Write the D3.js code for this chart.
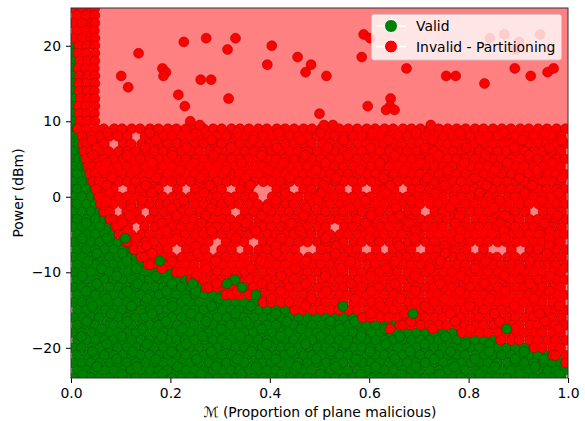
<!DOCTYPE html>
<html>
<head>
<meta charset="utf-8">
<script src="https://cdn.jsdelivr.net/npm/d3@7"></script>
<style>
	body { margin: 0; background: #fff; }
	svg { display: block; font-family: "DejaVu Sans", sans-serif; }
</style>
</head>
<body>
<script>
// Power level of each row of points (dBm)
const rowPower = [25,24,23,22,21,20,19,18,17,16,15,14,13,12,11,10,9,8,7,6,5,4,3,2,1,0,-1,-2,-3,-4,-5,-6,-7,-8,-9,-10,-11,-12,-13,-14,-15,-16,-17,-18,-19,-20,-21,-22,-23,-24];

// Proportion malicious of the valid points, one list per row
const validM = [
[],[],[],[],[],
[.002],[.003],[.002],[.001],[.002],[.002],[.003],[.004],[.002],[.002],[.003],
[.002,.012],[.004,.016],[.003,.016],[.004,.022],[.003,.014,.026],[.004,.022,.03],[.003,.012,.031],[.004,.022,.04],
[.003,.012,.031,.048],[.004,.022,.041,.055],[.003,.012,.031,.049,.06],[.004,.022,.041,.058,.066],[.002,.012,.031,.049,.068,.078],
[.004,.022,.041,.058,.077,.09],[.012,.031,.049,.068,.086,.097],[.004,.022,.041,.058,.077,.095,.111],
[.012,.031,.049,.068,.086,.104,.122,.127],[.004,.022,.041,.058,.077,.095,.113,.131,.141],[.012,.031,.049,.068,.086,.104,.122,.141,.155],
[.004,.023,.04,.059,.077,.094,.114,.131,.148,.168,.187,.204,.212],
[.012,.03,.05,.068,.085,.104,.123,.141,.158,.177,.196,.213,.23,.242],
[.005,.022,.041,.057,.077,.096,.113,.13,.149,.169,.186,.203,.222,.241,.258,.272],
[.012,.032,.049,.067,.086,.105,.122,.14,.159,.178,.195,.212,.231,.25,.268,.285,.304,.312],
[.005,.022,.04,.059,.077,.094,.113,.132,.149,.167,.186,.205,.222,.239,.258,.278,.295,.312,.331,.35,.368,.386],
[.013,.031,.048,.068,.087,.104,.121,.141,.16,.177,.194,.213,.232,.249,.267,.286,.305,.322,.339,.358,.378,.395,.412,.431,.449],
[.004,.023,.041,.057,.077,.096,.113,.13,.149,.169,.186,.203,.222,.241,.258,.276,.295,.314,.331,.348,.368,.387,.404,.421,.44,.459,.477,.494,.513,.532,.549,.567,.586],
[.012,.03,.049,.069,.086,.103,.122,.142,.159,.176,.195,.214,.231,.248,.268,.287,.304,.321,.34,.359,.377,.394,.413,.432,.449,.466,.485,.505,.522,.539,.558,.577,.595,.612,.631,.65,.662],
[.003,.022,.042,.058,.076,.095,.114,.131,.148,.168,.187,.204,.221,.24,.259,.277,.294,.313,.332,.349,.367,.386,.405,.422,.439,.458,.478,.495,.512,.531,.55,.568,.585,.604,.623,.64,.657,.677,.696,.713,.73,.749,.769,.786],
[.013,.031,.05,.068,.085,.104,.123,.141,.158,.177,.196,.213,.23,.249,.269,.286,.303,.322,.341,.358,.376,.395,.414,.431,.448,.467,.486,.504,.521,.54,.559,.576,.594,.613,.632,.649,.666,.685,.704,.722,.739,.758,.777,.794,.812,.831,.85,.865],
[.004,.021,.041,.059,.077,.094,.113,.132,.149,.167,.186,.205,.222,.239,.258,.278,.295,.312,.331,.35,.368,.385,.404,.423,.44,.457,.477,.496,.513,.53,.549,.569,.586,.603,.622,.641,.658,.676,.695,.714,.731,.748,.768,.787,.804,.821,.84,.859,.877,.894,.913,.931],
[.012,.032,.049,.067,.086,.105,.122,.14,.159,.178,.195,.212,.231,.25,.268,.285,.304,.323,.34,.357,.377,.396,.413,.43,.449,.468,.485,.503,.522,.541,.558,.575,.595,.614,.631,.648,.667,.686,.703,.721,.74,.759,.776,.793,.813,.832,.849,.866,.885,.904,.922,.939,.958,.97],
[.005,.022,.04,.058,.078,.095,.112,.131,.15,.168,.185,.204,.223,.24,.257,.277,.296,.313,.33,.349,.369,.386,.403,.422,.441,.458,.476,.495,.514,.531,.548,.568,.587,.604,.621,.64,.659,.677,.694,.713,.732,.749,.767,.786,.805,.822,.839,.858,.878,.895,.912,.931,.95,.968,.985,.996],
[.012,.031,.048,.068,.087,.104,.121,.141,.16,.177,.194,.213,.232,.249,.267,.286,.305,.322,.339,.358,.378,.395,.412,.431,.45,.467,.484,.504,.523,.54,.557,.576,.596,.613,.63,.649,.668,.685,.702,.722,.741,.758,.775,.794,.814,.831,.848,.867,.886,.903,.921,.94,.959,.976,.993],
[.004,.023,.041,.057,.077,.096,.113,.13,.149,.169,.186,.203,.222,.241,.258,.276,.295,.314,.331,.348,.368,.387,.404,.421,.44,.459,.477,.494,.513,.532,.549,.567,.586,.605,.622,.639,.658,.678,.695,.712,.731,.75,.768,.785,.804,.823,.84,.857,.877,.896,.913,.93,.949,.969,.986]
];

// Proportion malicious of the invalid points, one list per row
const invalidM = [
[.003,.021,.04,.048],[.012,.03,.048],[.004,.022,.041,.048],[.012,.03,.047],[.003,.022,.04,.048],
[.016,.032,.048],[.014,.03,.048],[.018,.034,.048],[.015,.029,.047],[.017,.033,.048],[.016,.031,.048],[.017,.033,.047],[.019,.034,.048],[.015,.03,.048],[.017,.032,.047],[.018,.034,.048],
[.014,.031,.05,.066,.087,.103,.122,.139,.159,.176,.195,.212,.231,.25,.267,.286,.303,.323,.34,.358,.377,.394,.414,.431,.449,.468,.485,.504,.521,.54,.558,.576,.595,.612,.631,.648,.668,.685,.703,.722,.74,.758,.776,.794,.813,.83,.849,.867,.885,.904,.921,.94,.958,.977,.995],
[.022,.041,.058,.077,.095,.113,.149,.168,.186,.204,.223,.24,.258,.277,.294,.313,.331,.349,.368,.386,.405,.422,.44,.458,.477,.495,.513,.531,.549,.568,.586,.604,.623,.64,.658,.677,.695,.713,.731,.75,.768,.786,.804,.822,.84,.858,.877,.895,.913,.931,.949,.968,.986],
[.024,.032,.05,.067,.105,.121,.142,.158,.178,.194,.214,.23,.25,.267,.287,.303,.323,.339,.359,.376,.396,.412,.432,.448,.468,.484,.505,.521,.541,.557,.577,.594,.614,.63,.65,.666,.686,.702,.723,.739,.759,.775,.795,.812,.832,.848,.868,.884,.904,.921,.941,.957,.977,.993],
[.026,.041,.059,.076,.096,.113,.13,.15,.168,.185,.204,.223,.24,.257,.278,.295,.312,.331,.35,.368,.385,.404,.423,.44,.457,.477,.496,.513,.53,.549,.569,.586,.603,.622,.641,.658,.676,.695,.714,.731,.748,.768,.787,.804,.821,.84,.859,.877,.894,.913,.932,.949,.967,.986],
[.03,.05,.067,.086,.105,.122,.14,.159,.178,.195,.212,.231,.25,.268,.285,.304,.323,.34,.357,.377,.396,.413,.43,.449,.468,.485,.503,.522,.541,.558,.575,.595,.614,.631,.648,.667,.686,.703,.721,.74,.759,.776,.793,.813,.832,.849,.866,.885,.904,.922,.939,.958,.977,.994],
[.034,.042,.058,.078,.095,.112,.131,.15,.168,.185,.204,.223,.24,.257,.277,.296,.313,.33,.349,.369,.386,.403,.422,.441,.458,.476,.495,.514,.531,.548,.568,.587,.604,.621,.64,.659,.677,.694,.713,.732,.749,.767,.786,.805,.822,.839,.858,.878,.895,.912,.931,.95,.968,.985],
[.038,.048,.068,.087,.104,.121,.141,.16,.177,.194,.213,.232,.249,.267,.286,.305,.322,.339,.358,.378,.395,.412,.431,.45,.467,.484,.504,.523,.54,.557,.576,.596,.613,.63,.649,.668,.685,.702,.722,.741,.758,.775,.794,.814,.831,.848,.867,.886,.903,.921,.94,.959,.976,.993],
[.044,.057,.077,.096,.113,.13,.149,.169,.186,.203,.222,.241,.258,.276,.295,.314,.331,.348,.368,.387,.404,.421,.44,.459,.477,.494,.513,.532,.549,.567,.586,.605,.622,.639,.658,.678,.695,.712,.731,.75,.768,.785,.804,.823,.84,.857,.877,.896,.913,.93,.949,.969,.986],
[.05,.069,.085,.123,.14,.16,.176,.214,.25,.267,.287,.303,.341,.357,.414,.43,.468,.484,.505,.521,.541,.575,.614,.63,.65,.686,.702,.722,.739,.759,.775,.795,.812,.832,.848,.868,.884,.904,.921,.941,.957,.977,.993],
[.056,.076,.096,.112,.132,.148,.169,.185,.205,.221,.241,.257,.278,.294,.314,.33,.35,.367,.405,.421,.441,.457,.478,.494,.514,.53,.55,.567,.587,.603,.623,.639,.659,.676,.696,.712,.732,.748,.769,.785,.805,.821,.841,.857,.878,.894,.914,.93,.95,.967,.987],
[.06,.07,.085,.105,.121,.142,.158,.178,.194,.214,.23,.25,.267,.287,.303,.323,.339,.359,.376,.396,.412,.432,.448,.468,.484,.505,.521,.541,.557,.577,.594,.614,.63,.65,.666,.686,.702,.723,.739,.759,.775,.795,.812,.832,.848,.868,.884,.904,.921,.941,.957,.977,.993],
[.066,.078,.112,.132,.167,.187,.203,.223,.239,.259,.276,.296,.312,.35,.367,.387,.403,.423,.439,.459,.476,.496,.512,.532,.548,.569,.585,.605,.621,.641,.657,.678,.694,.732,.748,.769,.785,.805,.821,.841,.857,.878,.894,.914,.95,.967,.987],
[.079,.087,.103,.123,.14,.16,.176,.196,.212,.232,.248,.269,.285,.305,.321,.341,.357,.378,.394,.414,.43,.45,.466,.486,.503,.523,.539,.559,.575,.596,.612,.632,.648,.668,.684,.704,.721,.741,.757,.777,.793,.814,.83,.85,.866,.886,.902,.923,.939,.959,.975,.995],
[.09,.094,.114,.148,.169,.185,.205,.221,.241,.257,.278,.294,.314,.33,.35,.367,.387,.403,.423,.439,.459,.476,.496,.512,.55,.567,.587,.603,.623,.639,.659,.676,.696,.712,.732,.748,.769,.785,.805,.821,.841,.857,.878,.894,.914,.93,.95,.967,.987],
[.097,.105,.121,.142,.158,.178,.194,.214,.23,.25,.267,.287,.303,.323,.339,.359,.376,.396,.412,.432,.448,.468,.484,.505,.521,.541,.557,.577,.594,.614,.63,.65,.666,.686,.702,.723,.739,.759,.775,.795,.812,.832,.848,.868,.884,.904,.921,.941,.957,.977,.993],
[.111,.114,.13,.15,.167,.187,.203,.223,.239,.259,.276,.312,.332,.348,.387,.403,.423,.439,.459,.476,.496,.512,.532,.548,.569,.585,.605,.621,.641,.657,.678,.694,.714,.73,.75,.767,.787,.803,.823,.839,.859,.876,.896,.912,.932,.948,.969,.985],
[.127,.142,.158,.178,.194,.232,.248,.269,.303,.323,.357,.378,.394,.414,.43,.45,.503,.523,.539,.559,.575,.614,.648,.668,.684,.723,.739,.759,.775,.795,.83,.886,.923,.939,.959,.975,.995],
[.141,.15,.167,.187,.203,.223,.239,.259,.276,.296,.312,.332,.348,.369,.385,.405,.421,.441,.457,.478,.494,.514,.53,.55,.567,.587,.603,.623,.639,.659,.676,.696,.712,.732,.748,.769,.785,.805,.821,.841,.857,.878,.894,.914,.93,.95,.967,.987],
[.155,.16,.176,.196,.212,.232,.248,.269,.285,.305,.321,.341,.357,.378,.394,.414,.43,.45,.466,.486,.503,.523,.539,.559,.575,.596,.612,.632,.648,.668,.684,.704,.721,.741,.757,.777,.793,.814,.83,.85,.866,.886,.902,.923,.939,.959,.975,.995],
[.212,.221,.241,.257,.278,.294,.314,.33,.35,.367,.387,.403,.423,.439,.459,.476,.496,.512,.532,.548,.569,.585,.605,.621,.641,.657,.678,.694,.714,.73,.75,.767,.787,.803,.823,.839,.859,.876,.896,.912,.932,.948,.969,.985],
[.242,.25,.267,.287,.303,.323,.339,.359,.376,.396,.412,.432,.448,.468,.484,.505,.521,.541,.557,.577,.594,.614,.63,.65,.666,.686,.702,.723,.739,.759,.775,.795,.812,.832,.848,.868,.884,.904,.921,.941,.957,.977,.993],
[.272,.278,.294,.314,.33,.35,.367,.387,.403,.423,.439,.459,.476,.496,.512,.532,.548,.569,.585,.605,.621,.641,.657,.678,.694,.714,.73,.75,.767,.787,.803,.823,.839,.859,.876,.896,.912,.932,.948,.969,.985],
[.312,.323,.339,.359,.376,.396,.412,.432,.448,.468,.484,.505,.521,.541,.557,.577,.594,.614,.63,.65,.666,.686,.702,.723,.739,.759,.775,.795,.812,.832,.848,.868,.884,.904,.921,.941,.957,.977,.993],
[.387,.403,.423,.439,.459,.476,.496,.512,.532,.548,.569,.585,.605,.621,.641,.657,.678,.694,.714,.73,.75,.767,.787,.803,.823,.839,.859,.876,.896,.912,.932,.948,.969,.985],
[.45,.466,.486,.503,.523,.539,.559,.575,.596,.612,.632,.648,.668,.684,.704,.721,.741,.757,.777,.793,.814,.83,.85,.866,.886,.902,.923,.939,.959,.975,.995],
[.587,.603,.623,.639,.659,.676,.696,.712,.732,.748,.769,.785,.805,.821,.841,.857,.878,.894,.914,.93,.95,.967,.987],
[.662,.668,.684,.704,.721,.741,.757,.777,.793,.814,.83,.85,.866,.886,.902,.923,.939,.959,.975,.995],
[.787,.803,.823,.839,.859,.876,.896,.912,.932,.948,.969,.985],
[.865,.886,.902,.923,.939,.959,.975,.995],
[.932,.948,.969,.985],
[.97,.975,.995],
[.996],
[],
[]
];

// Points between the main rows, which break up the row pattern
const midInvalidPower = [8.5,7.5,6.5,5.5,4.5,3.5,2.5,1.5,.5,-.5,-1.5,-2.5,-3.5,-4.5,-5.5,-6.5,-7.5,-8.5,-9.5,-10.5,-11.5,-12.5,-13.5,-14.5,-15.5,-16.5,-17.5];
const midInvalidM = [
[.073,.158,.252,.334,.418,.503,.607,.694,.782,.871,.953],
[.042,.171,.283,.366,.462,.548,.639,.728,.824,.908,.988],
[.052,.149,.233,.322,.414,.517,.603,.712,.796,.892,.962],
[.044,.113,.204,.287,.383,.471,.558,.652,.739,.834,.921],
[.071,.163,.248,.343,.428,.512,.622,.703,.791,.878,.969],
[.064,.131,.219,.312,.397,.493,.582,.671,.758,.853,.937],
[.083,.172,.261,.352,.441,.534,.628,.717,.813,.902,.988],
[.072,.151,.279,.361,.508,.642,.752,.836,.928],
[.076,.162,.268,.431,.503,.634,.733,.822,.913,.982],
[.071,.143,.227,.318,.412,.497,.593,.684,.771,.862,.948],
[.121,.203,.282,.394,.473,.562,.654,.763,.852],
[.118,.213,.271,.383,.468,.604,.662,.782,.873,.979],
[.104,.183,.262,.352,.443,.592,.681,.773,.864,.952],
[.113,.192,.283,.372,.461,.602,.693,.784,.871,.963],
[.131,.212,.332,.423,.512,.601,.692,.781,.873,.962],
[.152,.251,.412,.533,.661,.752,.962],
[.163,.254,.413,.532,.753,.958],
[.204,.291,.382,.473,.562,.652,.743,.834,.923],
[.183,.272,.363,.452,.543,.634,.722,.813,.904,.992],
[.253,.332,.423,.512,.603,.692,.784,.872,.963],
[.293,.384,.472,.563,.652,.743,.832,.923],
[.334,.422,.513,.604,.693,.782,.873,.962],
[.403,.484,.572,.663,.752,.843,.932],
[.472,.623,.712,.803,.892,.983],
[.603,.672,.763,.852,.943],
[.684,.773,.862,.953],
[.804,.893,.982]
];

const midValidPower = [-3.5,-5.5,-7.5,-8.5,-9.5,-10.5,-11.5,-12.5,-13.5,-14.5,-15.5,-16.5,-17.5,-18.5,-19.5,-20.5,-21.5,-22.5,-23.5];
const midValidM = [
[.031],[.023,.072],[.052,.103],[.034,.112],[.061,.132],[.023,.092,.171],[.052,.134,.203],[.031,.113,.192,.251],[.072,.153,.232,.298],
[.043,.122,.204,.283,.362],[.081,.163,.242,.331,.412],[.032,.113,.191,.272,.353,.434,.522,.571],[.062,.143,.224,.302,.384,.463,.542,.632],
[.021,.102,.183,.264,.341,.422,.503,.584,.662,.753],[.072,.153,.232,.313,.394,.472,.553,.634,.712,.794,.842],
[.043,.124,.203,.282,.363,.444,.523,.602,.683,.764,.842,.912],[.092,.171,.253,.334,.412,.493,.574,.652,.731,.813,.894,.952],
[.052,.133,.214,.292,.373,.454,.532,.613,.694,.772,.853,.934],[.024,.103,.184,.262,.343,.424,.502,.583,.664,.742,.823,.904,.983]
];

// Scattered invalid points above the main band, and strays over the valid region
const extraInvalidM = [.227,.272,.331,.315,.136,.184,.191,.186,.101,.115,.261,.282,.216,.229,.317,.24,.259,.404,.395,.456,.483,.472,.514,.589,.602,.585,.675,.755,.774,.832,.893,.925,.959,.971,.643,.597,.642,.634,.651,.5,.509,.527,.724,.843,.872,.944,.902,.895,.728,.642];
const extraInvalidPower = [20.5,21,21,19.5,19,17,16.5,16,16,14.5,15.5,15.5,13.5,12,13,10,9.5,20,17.5,18.5,17.5,16.5,16,21.5,21,18.5,17,16,16,15,17,16,16.5,17,13,12,12,11.5,11.5,11,9.5,9.5,9.5,21,21.5,21.5,20.5,19.5,-17.5,-17.5];

// Valid points that sit on top of the invalid ones along the boundary
const lateValidM = [.547,.688,.877,.109,.179,.33,.245,.314,.344,.372];
const lateValidPower = [-14.5,-15.5,-17.5,-5.5,-8.5,-11,-11.5,-11.5,-12,-13];

// Edge of the valid region behind the points
const edgePower = [9,8,7,6,5,4,3,2,1,0,-1,-2,-3,-4,-5,-6,-7,-8,-9,-10,-11,-12,-13,-14,-15,-16,-17,-18,-19,-20,-21,-22];
const edgeM = [.012,.016,.018,.022,.026,.03,.034,.04,.046,.052,.058,.064,.076,.088,.095,.109,.125,.139,.153,.21,.24,.27,.31,.385,.45,.59,.66,.787,.863,.934,.968,.994];

const xTicks = [0, 0.2, 0.4, 0.6, 0.8, 1];
const yTicks = [-20, -10, 0, 10, 20];
const legendLabels = ["Valid", "Invalid - Partitioning"];

const width = 585;
const height = 421;
const margin = { top: 8, right: 17, bottom: 43, left: 71 };
const radius = 5;
const fontSize = 13.9;

const colors = { valid: "#008000", invalid: "#ff0000", backInvalid: "#ff8080", backValid: "#c8c0a8" };

const svg = d3.select("body").append("svg").attr("width", width).attr("height", height);

const xScale = d3.scaleLinear().domain([0, 1]).range([margin.left, width - margin.right]);
const yScale = d3.scaleLinear().domain([-24, 25]).range([height - margin.bottom, margin.top]);

svg.append("clipPath")
	.attr("id", "plot-clip")
	.append("rect")
	.attr("x", margin.left)
	.attr("y", margin.top)
	.attr("width", width - margin.left - margin.right)
	.attr("height", height - margin.top - margin.bottom);

const plot = svg.append("g").attr("clip-path", "url(#plot-clip)");

// Decision regions
plot.append("rect")
	.attr("x", margin.left)
	.attr("y", margin.top)
	.attr("width", width - margin.left - margin.right)
	.attr("height", height - margin.top - margin.bottom)
	.attr("fill", colors.backInvalid);

plot.append("path")
	.datum(edgeM.map((m, i) => ({ m: m, power: edgePower[i] })))
	.attr("fill", colors.backValid)
	.attr("d", d3.area()
		.y((d) => yScale(d.power))
		.x0(xScale(0))
		.x1((d) => xScale(d.m)));

plot.append("rect")
	.attr("x", margin.left)
	.attr("y", yScale(-22))
	.attr("width", width - margin.left - margin.right)
	.attr("height", yScale(-24) - yScale(-22))
	.attr("fill", colors.backValid);

// Turn the per-row lists into points
function rowPoints(rows, powers) {
	return rows.flatMap((row, i) => row.map((m) => ({ m: m, power: powers[i] })));
}

function pairPoints(ms, powers) {
	return ms.map((m, i) => ({ m: m, power: powers[i] }));
}

function drawPoints(points, fill, stroke) {
	plot.append("g")
		.selectAll("circle")
		.data(points)
		.enter()
		.append("circle")
		.attr("cx", (d) => xScale(d.m))
		.attr("cy", (d) => yScale(d.power))
		.attr("r", radius)
		.attr("fill", fill)
		.attr("stroke", stroke)
		.attr("stroke-width", 0.5);
}

drawPoints(rowPoints(validM, rowPower), colors.valid, "#004a00");
drawPoints(rowPoints(midValidM, midValidPower), colors.valid, "#004a00");
drawPoints(rowPoints(invalidM, rowPower), colors.invalid, "#a00000");
drawPoints(rowPoints(midInvalidM, midInvalidPower), colors.invalid, "#a00000");
drawPoints(pairPoints(lateValidM, lateValidPower), colors.valid, "#004a00");
drawPoints(pairPoints(extraInvalidM, extraInvalidPower), colors.invalid, "#a00000");

// Axes
const xAxis = svg.append("g")
	.attr("transform", `translate(0, ${height - margin.bottom})`)
	.call(d3.axisBottom(xScale).tickValues(xTicks).tickFormat(d3.format(".1f")).tickSize(5).tickPadding(5));

const yAxis = svg.append("g")
	.attr("transform", `translate(${margin.left}, 0)`)
	.call(d3.axisLeft(yScale).tickValues(yTicks).tickSize(5).tickPadding(5));

[xAxis, yAxis].forEach((axis) => {
	axis.selectAll("text").attr("font-size", fontSize).attr("font-family", "DejaVu Sans").attr("fill", "#000");
	axis.selectAll("line").attr("stroke", "#000").attr("stroke-width", 1);
	axis.select(".domain").remove();
});

// Frame
svg.append("rect")
	.attr("x", margin.left)
	.attr("y", margin.top)
	.attr("width", width - margin.left - margin.right)
	.attr("height", height - margin.top - margin.bottom)
	.attr("fill", "none")
	.attr("stroke", "#333")
	.attr("stroke-width", 1);

// Axis labels
svg.append("text")
	.attr("x", 320)
	.attr("y", 417)
	.attr("text-anchor", "middle")
	.attr("font-size", fontSize)
	.text("ℳ (Proportion of plane malicious)");

svg.append("text")
	.attr("transform", "translate(23, 193) rotate(-90)")
	.attr("text-anchor", "middle")
	.attr("font-size", fontSize)
	.text("Power (dBm)");

// Legend
const legend = svg.append("g");

legend.append("rect")
	.attr("x", 371.5)
	.attr("y", 14.5)
	.attr("width", 190)
	.attr("height", 45.5)
	.attr("rx", 2.5)
	.attr("fill", "#fff")
	.attr("fill-opacity", 0.8)
	.attr("stroke", "#ccc")
	.attr("stroke-opacity", 0.8);

const legendRows = legend.selectAll("g")
	.data(legendLabels)
	.enter()
	.append("g")
	.attr("transform", (d, i) => `translate(0, ${26 + i * 20.5})`);

legendRows.append("line")
	.attr("x1", 376)
	.attr("x2", 406)
	.attr("stroke", "#fff")
	.attr("stroke-width", 1.5);

legendRows.append("circle")
	.attr("cx", 391)
	.attr("r", 6.5)
	.attr("fill", (d, i) => (i === 0 ? colors.valid : colors.invalid))
	.attr("stroke", "#fff")
	.attr("stroke-width", 1);

legendRows.append("text")
	.attr("x", 416)
	.attr("y", 5)
	.attr("font-size", fontSize)
	.text((d) => d);
</script>
</body>
</html>
